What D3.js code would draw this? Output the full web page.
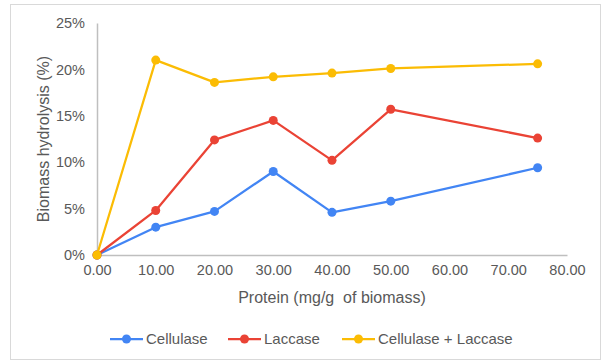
<!DOCTYPE html>
<html>
<head>
<meta charset="utf-8">
<script src="https://cdn.jsdelivr.net/npm/d3@7"></script>
<style>
  body { margin: 0; background: #fff; }
  text { font-family: "Liberation Sans", Arial, sans-serif; fill: #595959; }
</style>
</head>
<body>
<svg id="chart" width="605" height="362"></svg>
<script>
// Protein loading (mg/g of biomass)
const protein = [0, 10, 20, 30, 40, 50, 75];

// Biomass hydrolysis (%) per series
const cellulase = [0, 3.0, 4.7, 9.0, 4.6, 5.8, 9.4];
const laccase = [0, 4.8, 12.4, 14.5, 10.2, 15.7, 12.6];
const combined = [0, 21.0, 18.6, 19.2, 19.6, 20.1, 20.6];

const seriesNames = ["Cellulase", "Laccase", "Cellulase + Laccase"];
const seriesColours = ["#4285F4", "#EA4335", "#FBBC04"];

const xTicks = [0, 10, 20, 30, 40, 50, 60, 70, 80];
const yTicks = [0, 5, 10, 15, 20, 25];

const svg = d3.select("#chart");

// Outer frame
svg.append("rect")
    .attr("x", 10.5).attr("y", 4.5)
    .attr("width", 590).attr("height", 355)
    .attr("fill", "#fff")
    .attr("stroke", "#d9d9d9");

const x = d3.scaleLinear().domain([0, 80]).range([97, 567]);
const y = d3.scaleLinear().domain([0, 25]).range([255, 23]);

// Axes
const xAxis = svg.append("g")
    .attr("transform", `translate(0,${y(0)})`)
    .call(d3.axisBottom(x).tickValues(xTicks).tickFormat(d3.format(".2f")).tickSize(0).tickPadding(10));

const yAxis = svg.append("g")
    .attr("transform", `translate(${x(0)},0)`)
    .call(d3.axisLeft(y).tickValues(yTicks).tickFormat(d => d + "%").tickSize(0).tickPadding(12));

xAxis.select(".domain").attr("stroke", "#bfbfbf").attr("stroke-width", 1.5);
yAxis.select(".domain").attr("stroke", "#bfbfbf").attr("stroke-width", 1.5);
svg.selectAll(".tick text")
    .attr("font-size", 14.5)
    .attr("font-family", "Liberation Sans, Arial, sans-serif")
    .attr("fill", "#595959");

// Axis titles
svg.append("text")
    .attr("x", x(40)).attr("y", 303)
    .attr("text-anchor", "middle")
    .attr("font-size", 16)
    .style("white-space", "pre")
    .text("Protein (mg/g  of biomass)");

svg.append("text")
    .attr("transform", `translate(49,${y(12.5)}) rotate(-90)`)
    .attr("text-anchor", "middle")
    .attr("font-size", 16)
    .text("Biomass hydrolysis (%)");

// Lines and markers
const allSeries = [cellulase, laccase, combined];
const line = d3.line()
    .x((d, i) => x(protein[i]))
    .y(d => y(d));

allSeries.forEach((values, s) => {
    const g = svg.append("g");
    g.append("path")
        .datum(values)
        .attr("d", line)
        .attr("fill", "none")
        .attr("stroke", seriesColours[s])
        .attr("stroke-width", 2.25)
        .attr("stroke-linejoin", "round");
    g.selectAll("circle")
        .data(values)
        .join("circle")
        .attr("cx", (d, i) => x(protein[i]))
        .attr("cy", d => y(d))
        .attr("r", 4.5)
        .attr("fill", seriesColours[s]);
});

// Legend
const legendX = [110, 228, 342];
const legendY = 339;
seriesNames.forEach((name, s) => {
    const g = svg.append("g").attr("transform", `translate(${legendX[s]},${legendY})`);
    g.append("line")
        .attr("x1", 0).attr("x2", 33)
        .attr("stroke", seriesColours[s])
        .attr("stroke-width", 2.25);
    g.append("circle")
        .attr("cx", 16.5).attr("r", 4.5)
        .attr("fill", seriesColours[s]);
    g.append("text")
        .attr("x", 36).attr("dy", "0.35em")
        .attr("font-size", 15)
        .text(name);
});
</script>
</body>
</html>
